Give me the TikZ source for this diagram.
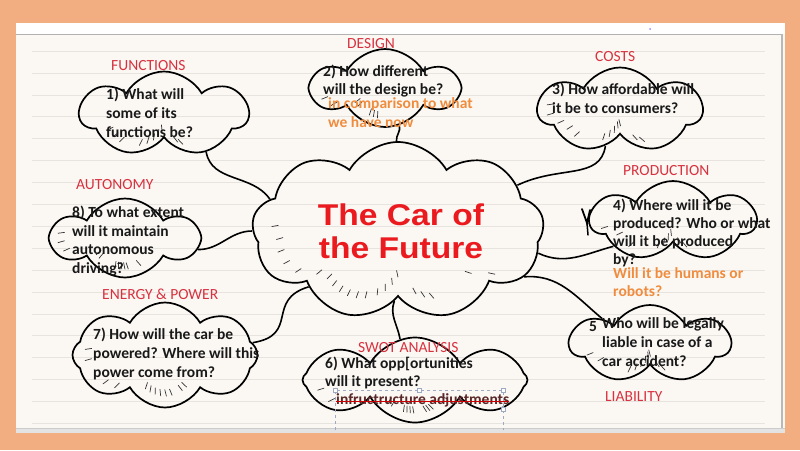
\documentclass[tikz,border=0pt]{standalone}
\usepackage{fontspec}
\setmainfont{Carlito}
\newfontfamily\titlefont{Liberation Sans}
\usetikzlibrary{shapes.symbols,calc}
\definecolor{salmon}{HTML}{F2AE80}
\definecolor{paper}{HTML}{FBF8F4}
\definecolor{rulecol}{HTML}{E7E3DF}
\definecolor{labred}{HTML}{D8323F}
\definecolor{titred}{HTML}{EA1A1F}
\definecolor{orng}{HTML}{F08C3E}
\definecolor{selbox}{HTML}{9DAAC2}
\newcommand{\hatchmarks}[3]{%
  \foreach \a in {#3} {\draw[hatchline] ($(#1.\a)!#2!(#1.center)$) -- ($($(#1.\a)!#2!(#1.center)$)!7pt!12:(#1.center)$);}}
\tikzset{
  puff/.style={cloud, draw=black, line width=1.7pt, cloud ignores aspect, inner sep=0pt, cloud puff arc=120},
  lab/.style={font=\fontsize{15.5}{18}\selectfont, text=labred, anchor=base west, inner sep=0pt},
  qtext/.style={font=\bfseries\fontsize{15.5}{19}\selectfont, align=left, anchor=north west, inner sep=0pt, text=black!90},
  otext/.style={qtext, text=orng},
  link/.style={draw=black, line width=1.6pt},
  hatchline/.style={line width=0.7pt, black!80},
}
\begin{document}
\begin{tikzpicture}[x=1pt,y=-1pt]
\useasboundingbox (0,0) rectangle (800,450);
% background and paper
\fill[salmon] (0,0) rectangle (800,450);
\fill[paper] (16,23) rectangle (785,433);
\fill[white] (16,23) rectangle (785,33.5);
\draw[gray!60, line width=1pt] (16,34) -- (782,34);
\draw[gray!55, line width=1.2pt] (782,34) -- (782,428);
\fill[gray!22] (16,428) rectangle (785,433);
\draw[gray!40] (16,428) -- (785,428);
\foreach \y in {51,72.9,...,424} \draw[rulecol, line width=0.6pt] (32,\y) -- (765,\y);
\fill[blue!45] (650,29) circle (1pt);

% clouds
\node[puff, cloud puffs=9, minimum width=292pt, minimum height=178pt] (main) at (398,231) {};
\node[puff, cloud puffs=7, minimum width=168pt, minimum height=85pt] (fun) at (164,114) {};
\node[puff, cloud puffs=6, minimum width=144pt, minimum height=78pt] (des) at (385,88) {};
\node[puff, cloud puffs=7, minimum width=164pt, minimum height=85pt] (cost) at (620,110) {};
\node[puff, cloud puffs=7, minimum width=165pt, minimum height=80pt] (prod) at (673,221) {};
\node[puff, cloud puffs=7, minimum width=160pt, minimum height=78pt] (liab) at (650,344) {};
\node[puff, cloud puffs=8, minimum width=225pt, minimum height=85pt] (swot) at (415,380) {};
\node[puff, cloud puffs=8, minimum width=185pt, minimum height=105pt] (en) at (165,355) {};
\node[puff, cloud puffs=6, minimum width=144pt, minimum height=79pt] (aut) at (125,238) {};

% hatching
\hatchmarks{main}{20pt}{178,184,190,196,202,208,214,220,226,232,238,244,252,258,264,270,286,292,298,330,336}
\hatchmarks{fun}{10pt}{196,204,212,232,240,248,256,264,296,302}
\hatchmarks{des}{9pt}{190,198,206,214,240,248,256}
\hatchmarks{cost}{10pt}{176,184,192,200,210,240,248,256,264,272,300,308}
\hatchmarks{prod}{10pt}{186,194,210,240,248,256,264,290,298}
\hatchmarks{liab}{10pt}{190,198,232,240,248,256,264,272,292,300}
\hatchmarks{swot}{10pt}{186,194,220,228,250,256,262,268,290,296,302,330}
\hatchmarks{en}{12pt}{176,184,205,213,240,248,256,264,272,280,296,304}
\hatchmarks{aut}{9pt}{176,184,192,210,218,252,258,264,270,276,300}

% connectors
\draw[link] (fun.-42) to[out=-80,in=125] (main.166);
\draw[link] (des.-69) to[out=-75,in=95] (main.91);
\draw[link] (cost.-112) .. controls (600,180) and (560,165) .. (main.21);
\draw[link] (main.-9) to[out=-25,in=195] (prod.203);
\draw[link] (main.-20) to[out=5,in=140] (liab.152);
\draw[link] (main.-93) to[out=-110,in=100] (swot.110);
\draw[link] (main.-148) .. controls (265,300) and (300,335) .. (en.8);
\draw[link] (aut.-9) to[out=0,in=180] (main.180);

% scribble near production
\draw[line width=1.8pt, line cap=round] (582,209) -- (587,223) -- (590,210);
\draw[line width=1.5pt, line cap=round] (587,223) -- (588,235);

% labels
\node[lab] (lfun) at (111,70) {FUNCTIONS};
\node[lab] (ldes) at (347,48) {DESIGN};
\node[lab] (lcost) at (595,61) {COSTS};
\node[lab] (lprod) at (623,175) {PRODUCTION};
\node[lab] (lliab) at (605,401) {LIABILITY};
\node[lab] (laut) at (76,189) {AUTONOMY};
\node[lab] (len) at (102,299) {ENERGY \& POWER};
\node[lab] (lswot) at (358,352) {SWOT ANALYSIS};

% title
\node[font=\titlefont\bfseries\fontsize{30}{33}\selectfont, text=titred, align=center, xscale=1.12, inner sep=0pt] (title) at (401,231) {The Car of\\the Future};

% questions
\node[qtext] (tfun) at (106,88) {1) What will\\some of its\\functions be?};
\node[qtext, font=\bfseries\fontsize{15.5}{18}\selectfont] (tdes) at (323,65) {2) How different\\will the design be?};
\node[otext] (odes) at (328,97) {in comparison to what\\we have now};
\node[qtext] (tcost) at (552,83) {3) How affordable will\\it be to consumers?};
\node[qtext, font=\bfseries\fontsize{15.5}{18}\selectfont] (tprod) at (613,199) {4) Where will it be\\produced? Who or what\\will it be produced\\by?};
\node[otext, font=\bfseries\fontsize{15.5}{18}\selectfont] (oprod) at (613,267) {Will it be humans or\\robots?};
\node[qtext, anchor=base west] (nliab) at (589,331) {5};
\node[qtext] (tliab) at (602,317) {Who will be legally\\liable in case of a\\car accident?};
\node[qtext, font=\bfseries\fontsize{15.5}{18}\selectfont] (tswot) at (325,357) {6) What opp[ortunities\\will it present?};
\node[qtext, text={rgb,255:red,90;green,40;blue,40}] (infra) at (336,393) {infructructure adjustments};
\draw[red!80!black, line width=0.9pt] ($(infra.west)+(0,1)$) -- ($(infra.east)+(0,1)$);
\node[qtext] (ten) at (93,328) {7) How will the car be\\powered? Where will this\\power come from?};
\node[qtext, font=\bfseries\fontsize{15.5}{18.5}\selectfont] (taut) at (72,206) {8) To what extent\\will it maintain\\autonomous\\driving?};

% selection box around the edited text
\draw[selbox, dashed, line width=0.6pt] (335,430) -- (335,390) -- (503,390) -- (503,430);
\foreach \p in {(335,390),(419,390),(503,390),(503,409)} \draw[selbox, fill=white, line width=0.5pt] \p ++(-1.8,-1.8) rectangle ++(3.6,3.6);
\end{tikzpicture}
\end{document}
